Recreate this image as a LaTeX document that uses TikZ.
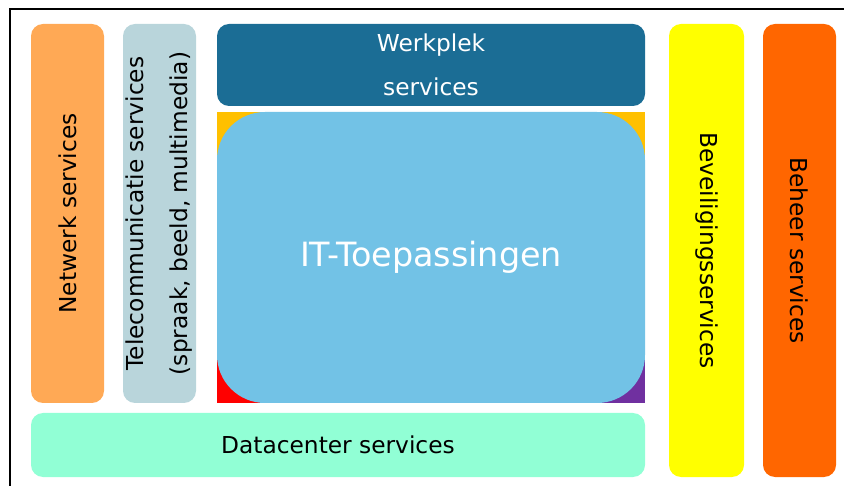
\documentclass[tikz,border=0pt]{standalone}
\usepackage{fontspec}
\setmainfont{DejaVu Sans}
\usetikzlibrary{positioning}
\definecolor{netwerkkleur}{HTML}{FFA955}
\definecolor{telecomkleur}{HTML}{B9D5DB}
\definecolor{werkplekkleur}{HTML}{1B6D95}
\definecolor{itblauw}{HTML}{72C2E6}
\definecolor{datacenterkleur}{HTML}{91FFD5}
\definecolor{geel}{HTML}{FFFF00}
\definecolor{oranje}{HTML}{FF6600}
\definecolor{hoekgeel}{HTML}{FFC000}
\definecolor{rood}{HTML}{FF0000}
\definecolor{paars}{HTML}{7030A0}

\begin{document}
\begin{tikzpicture}[x=1pt, y=-1pt,
    blok/.style={rectangle, rounded corners=12pt, inner sep=0pt, outer sep=0pt,
        align=center, font=\fontsize{23.3}{44}\selectfont}]
    \useasboundingbox (0,0) rectangle (844,486);
    \draw[line width=1.5pt] (844,9) -- (10,9) -- (10,486);
    % gekleurde hoeken achter IT-Toepassingen
    \fill[hoekgeel] (217,112) rectangle (645,258);
    \fill[rood] (217,258) rectangle (431,403);
    \fill[paars] (431,258) rectangle (645,403);
    \node[blok, fill=netwerkkleur, rotate=90, minimum width=379pt, minimum height=73pt] (netwerk) at (67.5,213.5) {Netwerk services};
    \node[blok, fill=telecomkleur, rotate=90, minimum width=379pt, minimum height=73pt] (telecom) at (159.5,213.5) {Telecommunicatie services\\(spraak, beeld, multimedia)};
    \node[blok, fill=werkplekkleur, text=white, minimum width=428pt, minimum height=82pt] (werkplek) at (431,65) {Werkplek\\services};
    \node[blok, fill=itblauw, text=white, rounded corners=48pt, minimum width=428pt, minimum height=291pt, font=\fontsize{33.4}{40}\selectfont] (it) at (431,257.5) {IT-Toepassingen};
    \node[blok, fill=datacenterkleur, minimum width=614pt, minimum height=64pt] (datacenter) at (338,445) {Datacenter services};
    \node[blok, fill=geel, rotate=-90, minimum width=453pt, minimum height=75pt] (beveiliging) at (706.5,250.5) {Beveiligingsservices};
    \node[blok, fill=oranje, rotate=-90, minimum width=453pt, minimum height=73pt] (beheer) at (799.5,250.5) {Beheer services};
\end{tikzpicture}
\end{document}
